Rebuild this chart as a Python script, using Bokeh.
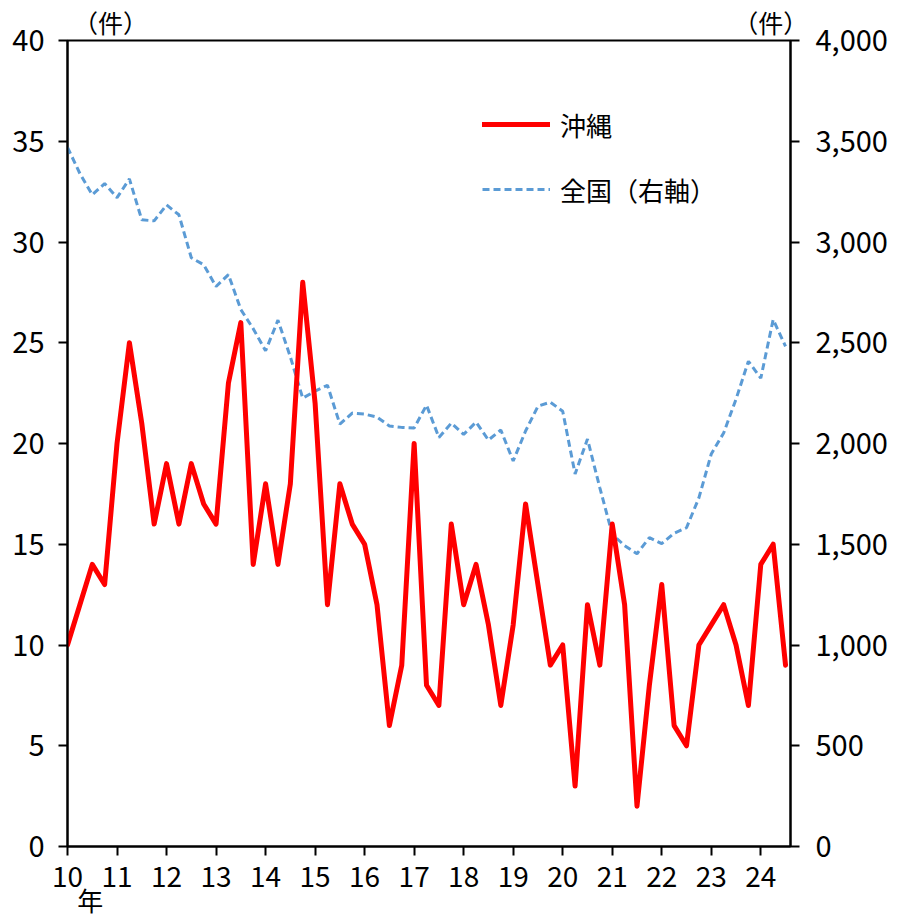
from bokeh.plotting import figure
from bokeh.models import (Range1d, LinearAxis, FixedTicker, Legend, LegendItem,
                          NumeralTickFormatter, ColumnDataSource, CustomJSTickFormatter)
from bokeh.embed import file_html
from bokeh.resources import INLINE

# quarterly periods, 2010 Q1 .. 2024 Q3 (x = year (2-digit) + quarter offset)
year_labels = list(range(10, 25))
quarters = [y + q * 0.25 for y in year_labels for q in range(4)][:59]

okinawa = [10, 12, 14, 13,
           20, 25, 21, 16,
           19, 16, 19, 17,
           16, 23, 26, 14,
           18, 14, 18, 28,
           22, 12, 18, 16,
           15, 12, 6, 9,
           20, 8, 7, 16,
           12, 14, 11, 7,
           11, 17, 13, 9,
           10, 3, 12, 9,
           16, 12, 2, 8,
           13, 6, 5, 10,
           11, 12, 10, 7,
           14, 15, 9]

national = [3470, 3340, 3234, 3290,
            3220, 3313, 3110, 3105,
            3184, 3135, 2922, 2887,
            2779, 2838, 2665, 2570,
            2460, 2612, 2430, 2225,
            2260, 2289, 2096, 2151,
            2146, 2131, 2087, 2080,
            2077, 2190, 2030, 2101,
            2045, 2106, 2017, 2067,
            1913, 2062, 2185, 2205,
            2160, 1849, 2022, 1780,
            1550, 1493, 1453, 1533,
            1503, 1555, 1582, 1730,
            1948, 2052, 2220, 2408,
            2324, 2615, 2482]

left_ticks = [0, 5, 10, 15, 20, 25, 30, 35, 40]
right_ticks = [0, 500, 1000, 1500, 2000, 2500, 3000, 3500, 4000]
unit_text = "（件）"
year_text = "年"

FONT = "Noto Sans CJK JP"

src = ColumnDataSource(dict(x=quarters, oki=okinawa, nat=national))

p = figure(width=900, height=920, x_range=Range1d(10, 24.6), y_range=Range1d(0, 40),
           output_backend="svg", toolbar_location=None,
           min_border_left=67, min_border_right=110, min_border_top=38, min_border_bottom=73)
p.extra_y_ranges = {"nat": Range1d(0, 4000)}

p.xgrid.visible = False
p.ygrid.visible = False
p.outline_line_color = "black"
p.outline_line_width = 2
p.background_fill_color = "white"
p.border_fill_color = "white"

r_nat = p.line("x", "nat", source=src, y_range_name="nat", line_color="#5B9BD5",
               line_width=3, line_dash="7 4")
r_oki = p.line("x", "oki", source=src, line_color="#FF0000", line_width=5,
               line_join="round", line_cap="round")

right = LinearAxis(y_range_name="nat", ticker=FixedTicker(ticks=right_ticks),
                   formatter=NumeralTickFormatter(format="0,0"))
p.add_layout(right, "right")

p.xaxis.ticker = FixedTicker(ticks=year_labels)
p.yaxis[0].ticker = FixedTicker(ticks=left_ticks)

for ax in [p.xaxis[0], p.yaxis[0], right]:
    ax.axis_line_width = 2
    ax.axis_line_color = "black"
    ax.major_tick_line_width = 2
    ax.major_tick_line_color = "black"
    ax.major_tick_out = 9
    ax.major_tick_in = 0
    ax.minor_tick_line_color = None
    ax.major_label_text_font = FONT
    ax.major_label_text_font_size = "29px"
    ax.major_label_text_color = "black"

p.xaxis[0].major_label_text_font_size = "28px"
p.yaxis[0].major_label_standoff = 14
right.major_label_standoff = 16
p.xaxis[0].major_label_standoff = 10


def text_axis(ticks, txt, size, standoff):
    ax = LinearAxis(ticker=FixedTicker(ticks=ticks),
                    formatter=CustomJSTickFormatter(code="return '%s';" % txt))
    ax.axis_line_color = None
    ax.major_tick_line_color = None
    ax.minor_tick_line_color = None
    ax.major_tick_out = 0
    ax.major_tick_in = 0
    ax.major_label_standoff = standoff
    ax.major_label_text_font = FONT
    ax.major_label_text_font_size = size
    ax.major_label_text_color = "black"
    return ax


# unit labels above both y axes
p.add_layout(text_axis([10.87, 24.2], unit_text, "25px", 1), "above")
# "年" under the first year label
p.add_layout(text_axis([10.46], year_text, "26px", -9), "below")

legend = Legend(items=[LegendItem(label="沖縄", renderers=[r_oki]),
                       LegendItem(label="全国（右軸）", renderers=[r_nat])],
                location=(415, 637), orientation="vertical",
                background_fill_alpha=0, border_line_color=None,
                glyph_width=68, glyph_height=40, label_height=40, spacing=25,
                padding=0, margin=0, label_standoff=10,
                label_text_font=FONT, label_text_font_size="26px", label_text_color="black")
p.add_layout(legend)

open("out.html", "w").write(file_html(p, INLINE))
